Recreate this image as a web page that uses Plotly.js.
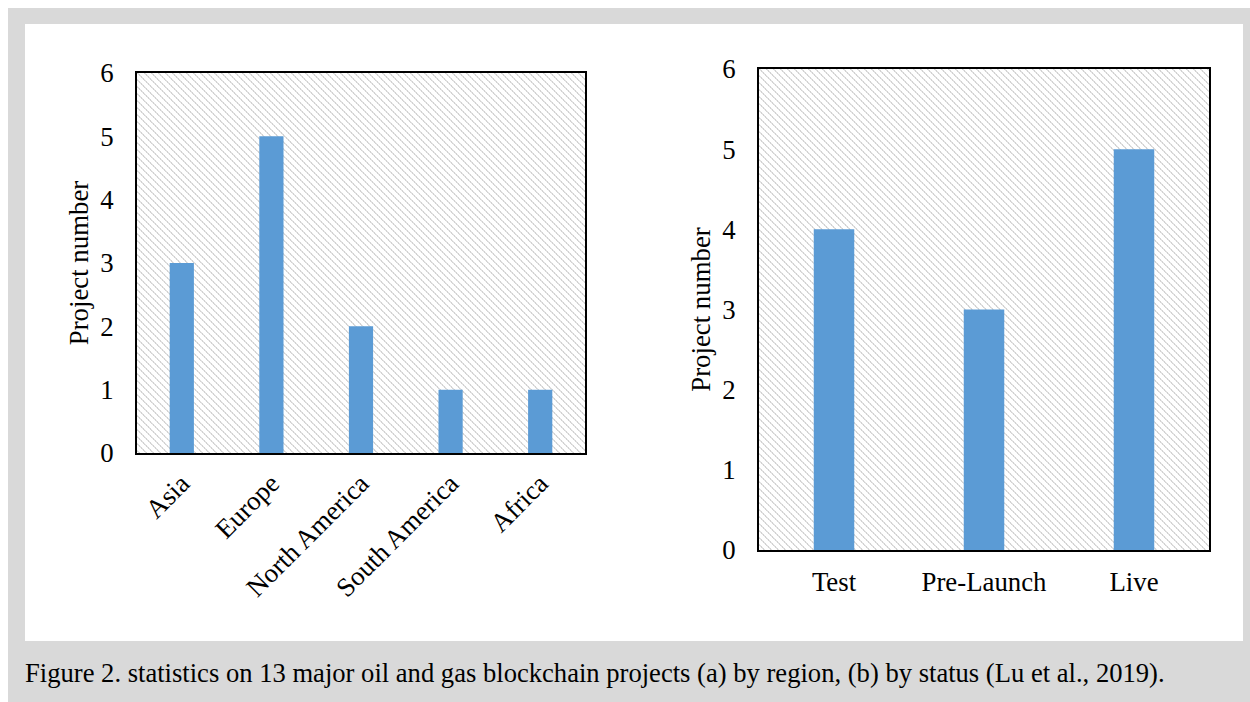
<!DOCTYPE html>
<html>
<head>
<meta charset="utf-8">
<script src="https://cdn.plot.ly/plotly-3.0.1.min.js"></script>
<style>
html,body{margin:0;padding:0;background:#ffffff;}
#wrap{position:relative;width:1250px;height:702px;overflow:hidden;}
.bg{position:absolute;}
#frame{left:8px;top:8px;width:1242px;height:694px;background:#d9d9d9;}
#panel{left:25px;top:24px;width:1218px;height:617px;background:#ffffff;}
.hatch{background-color:#ffffff;}
#chart{position:absolute;left:0;top:0;width:1250px;height:702px;}
</style>
</head>
<body>
<div id="wrap">
  <div id="frame" class="bg"></div>
  <div id="panel" class="bg"></div>
  <div id="hatchL" class="bg hatch"></div>
  <div id="hatchR" class="bg hatch"></div>
  <div id="chart"></div>
</div>
<script>
// ---- data ----
const regionCategories = ["Asia", "Europe", "North America", "South America", "Africa"];
const regionValues = [3, 5, 2, 1, 1];
const statusCategories = ["Test", "Pre-Launch", "Live"];
const statusValues = [4, 3, 5];
const yTickValues = [0, 1, 2, 3, 4, 5, 6];
const yAxisTitle = "Project number";
const captionText = "Figure 2. statistics on 13 major oil and gas blockchain projects (a) by region, (b) by status (Lu et al., 2019).";

// ---- geometry helpers (pixels -> paper) ----
const W = 1250, H = 702;
const px = v => v / W;
const py = v => 1 - v / H;

const FONT = '"Liberation Serif", "Times New Roman", serif';
const BAR = '#5b9bd5';
const FS = 26.8;

const L = {x0: 137, x1: 585, y0: 73, y1: 453};
const R = {x0: 759, x1: 1209, y0: 69, y1: 550};

// pixel-tile hatch ("\" direction)
function hatchTile() {
  const n = 7;
  let r = '';
  for (let i = 0; i < n; i++) {
    const c = (i % 2 === 0) ? '#d3d3d3' : '#e2e2e2';
    r += `<rect x="${i}" y="${i}" width="1" height="1" fill="${c}"/>`;
    r += `<rect x="${(i + 1) % n}" y="${i}" width="1" height="1" fill="${(i % 2 === 0) ? '#e2e2e2' : '#d3d3d3'}"/>`;
  }
  const svg = `<svg xmlns="http://www.w3.org/2000/svg" width="${n}" height="${n}" shape-rendering="crispEdges"><rect width="${n}" height="${n}" fill="#ffffff"/>${r}</svg>`;
  return 'url("data:image/svg+xml;base64,' + btoa(svg) + '")';
}
function placeHatch(id, r) {
  const el = document.getElementById(id);
  el.style.left = r.x0 + 'px';
  el.style.top = r.y0 + 'px';
  el.style.width = (r.x1 - r.x0) + 'px';
  el.style.height = (r.y1 - r.y0) + 'px';
  el.style.backgroundImage = hatchTile();
  el.style.backgroundRepeat = 'repeat';
}
placeHatch('hatchL', L);
placeHatch('hatchR', R);

const traces = [
  {type: 'bar', x: regionCategories, y: regionValues, xaxis: 'x', yaxis: 'y',
   marker: {color: BAR}, width: 0.27, hoverinfo: 'x+y'},
  {type: 'bar', x: statusCategories, y: statusValues, xaxis: 'x2', yaxis: 'y2',
   marker: {color: BAR}, width: 0.27, hoverinfo: 'x+y'}
];

const axisCommon = {
  showgrid: false, zeroline: false, showline: true, linecolor: '#000', linewidth: 2,
  mirror: true, ticks: '', tickfont: {family: FONT, size: FS, color: '#000'}
};

const layout = {
  width: W, height: H,
  margin: {l: 0, r: 0, t: 0, b: 0},
  paper_bgcolor: 'rgba(0,0,0,0)',
  plot_bgcolor: 'rgba(0,0,0,0)',
  showlegend: false,
  font: {family: FONT, color: '#000'},
  xaxis: Object.assign({}, axisCommon, {
    domain: [px(L.x0), px(L.x1)], anchor: 'y', tickangle: -45, ticklabelstandoff: 2
  }),
  yaxis: Object.assign({}, axisCommon, {
    domain: [py(L.y1), py(L.y0)], anchor: 'x', range: [0, 6], tickvals: yTickValues,
    ticklabelstandoff: 16,
    title: {text: yAxisTitle, font: {family: FONT, size: FS, color: '#000'}, standoff: 4}
  }),
  xaxis2: Object.assign({}, axisCommon, {
    domain: [px(R.x0), px(R.x1)], anchor: 'y2', tickangle: 0, ticklabelstandoff: 7
  }),
  yaxis2: Object.assign({}, axisCommon, {
    domain: [py(R.y1), py(R.y0)], anchor: 'x2', range: [0, 6], tickvals: yTickValues,
    ticklabelstandoff: 16,
    title: {text: yAxisTitle, font: {family: FONT, size: FS, color: '#000'}, standoff: 4}
  }),
  annotations: [
    {text: captionText, xref: 'paper', yref: 'paper', x: px(23), y: py(673),
     xanchor: 'left', yanchor: 'middle', showarrow: false,
     font: {family: FONT, size: 26.6, color: '#000'}}
  ]
};

Plotly.newPlot('chart', traces, layout, {displayModeBar: false, staticPlot: true});
</script>
</body>
</html>
